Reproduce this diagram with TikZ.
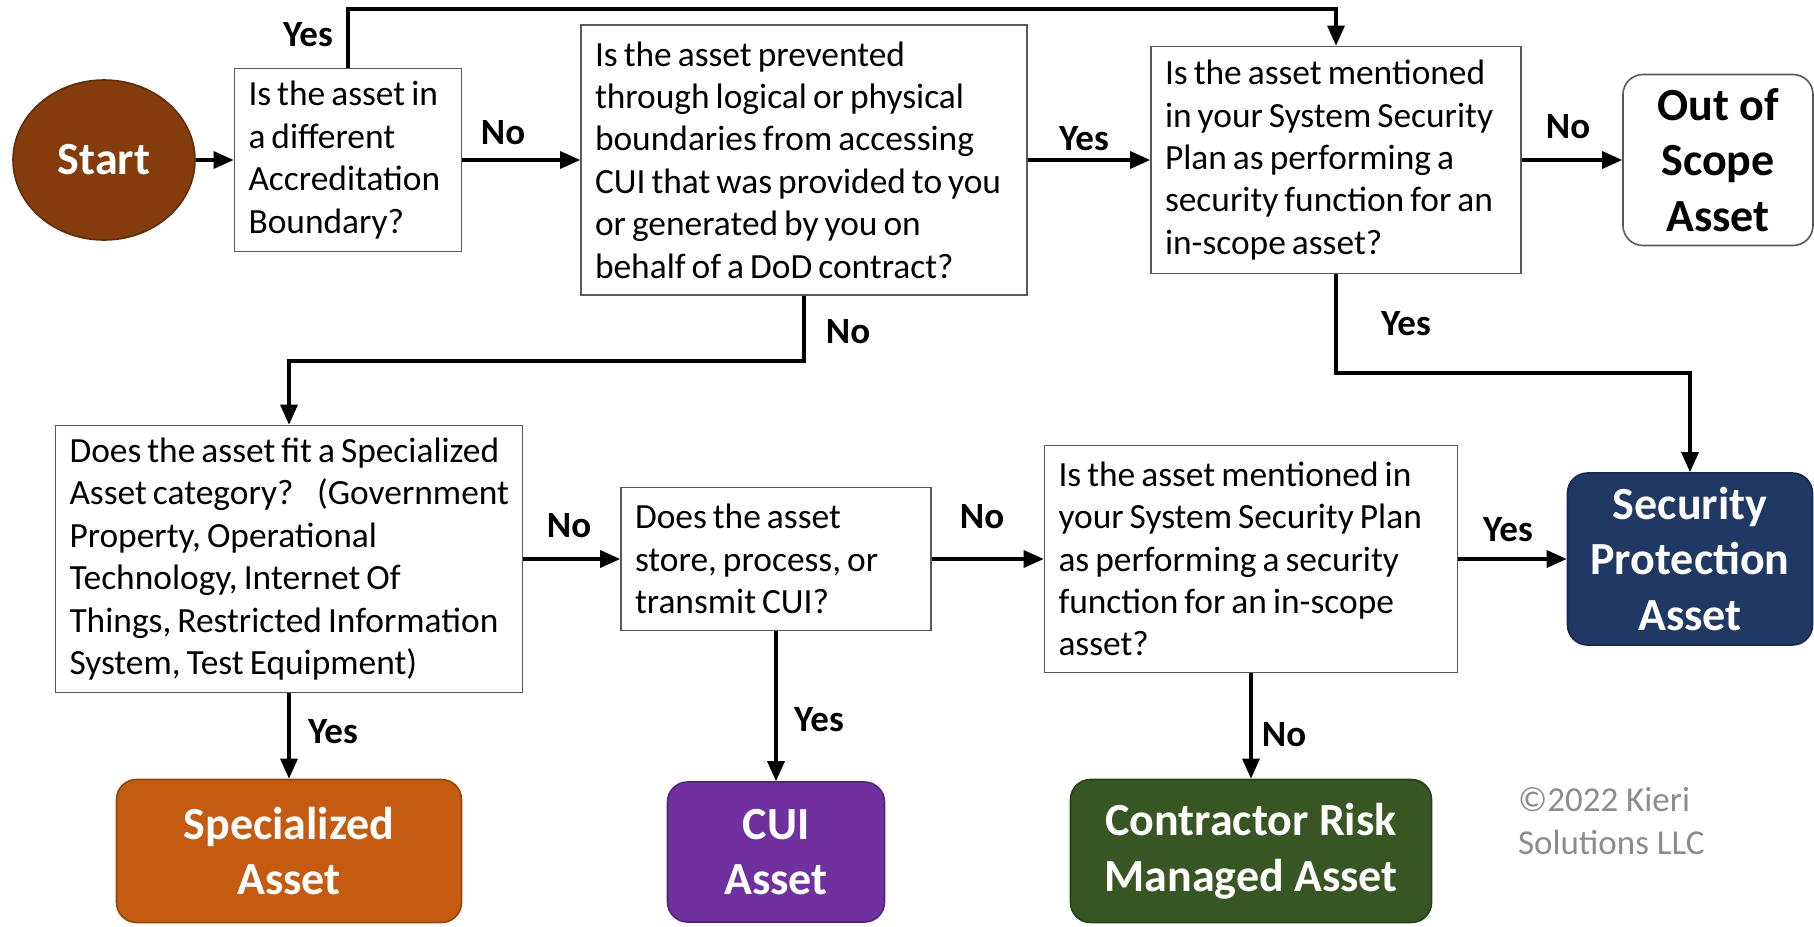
\documentclass[tikz,border=0pt]{standalone}
\usepackage{fontspec}
\setmainfont{Carlito}
\usepackage{tikz}
\usetikzlibrary{shapes,arrows.meta}
\usepackage{xcolor}
\definecolor{startbrown}{HTML}{843C0C}
\definecolor{specorange}{HTML}{C55A11}
\definecolor{cuipurple}{HTML}{7030A0}
\definecolor{crmgreen}{HTML}{375623}
\definecolor{spanavy}{HTML}{1F3864}
\definecolor{boxline}{HTML}{595959}
\definecolor{copygray}{HTML}{8C8C8C}

\begin{document}
\begin{tikzpicture}[x=0.5pt,y=-0.5pt,
		question/.style={draw=boxline, line width=0.8pt, fill=white, align=left, inner xsep=0pt, inner ysep=2pt, font=\fontsize{17.7}{21.2}\selectfont, execute at begin node={\leftskip=7pt\spaceskip=0.17em plus 0.05em\hyphenpenalty=10000\relax}},
		outcome/.style={rounded corners=10pt, draw=#1!75!black, line width=0.8pt, fill=#1, text=white, align=center, inner sep=2pt, font=\bfseries\fontsize{23}{27.8}\selectfont},
		answer/.style={font=\bfseries\fontsize{18.5}{22}\selectfont},
		flow/.style={line width=1.6pt, -{Triangle[length=10pt,width=8.5pt]}}]
		\useasboundingbox (0,0) rectangle (1814,926);
		\node[outcome=startbrown, ellipse, minimum width=91pt, minimum height=80pt] (start) at (104,160) {Start};
		\node[question, text width=113.5pt, minimum height=91.5pt] (accred) at (348,160) {Is the asset in\\a different\\Accreditation\\Boundary?};
		\node[question, text width=223pt, minimum height=135pt] (prevent) at (804,160) {Is the asset prevented\\through logical or physical\\boundaries from accessing\\CUI that was provided to you\\or generated by you on\\behalf of a DoD contract?};
		\node[question, text width=185pt, minimum height=113.5pt] (sspfunc) at (1336,160) {Is the asset mentioned\\in your System Security\\Plan as performing a\\security function for an\\in-scope asset?};
		\node[outcome=white, draw=boxline, text=black, minimum width=95pt, minimum height=85.5pt] (outscope) at (1718,160) {Out of\\Scope\\Asset};
		\node[question, text width=233.5pt, minimum height=133.5pt] (special) at (289,559) {Does the asset fit a Specialized\\Asset category?~ (Government\\Property, Operational\\Technology, Internet Of\\Things, Restricted Information\\System, Test Equipment)};
		\node[question, text width=155pt, minimum height=71.5pt] (storecui) at (776,559) {Does the asset\\store, process, or\\transmit CUI?};
		\node[question, text width=206.5pt, minimum height=113.5pt] (sspcheck) at (1251,559) {Is the asset mentioned in\\your System Security Plan\\as performing a security\\function for an in-scope\\asset?};
		\node[outcome=spanavy, minimum width=122.5pt, minimum height=86pt] (spa) at (1690,559) {Security\\Protection\\Asset};
		\node[outcome=specorange, minimum width=172.5pt, minimum height=71.5pt] (specasset) at (289,851) {Specialized\\Asset};
		\node[outcome=cuipurple, minimum width=108.5pt, minimum height=70pt] (cuiasset) at (776,852) {CUI\\Asset};
		\node[outcome=crmgreen, minimum width=180.5pt, minimum height=71.5pt] (crmasset) at (1251,851) {Contractor Risk\\Managed Asset};
		\node[anchor=west, align=left, text=copygray, font=\fontsize{17.5}{21.2}\selectfont] (copyright) at (1511,821) {©2022 Kieri\\Solutions LLC};
		\coordinate (topline) at (0,9);
		\coordinate (leftturn) at (0,361);
		\coordinate (rightturn) at (0,373);
		\draw[flow] (start) -- (accred);
		\draw[flow] (accred) -- (prevent);
		\draw[flow] (prevent) -- (sspfunc);
		\draw[flow] (sspfunc) -- (outscope);
		\draw[flow] (accred.north) -- (accred.north |- topline) -| (sspfunc.north);
		\draw[flow] (prevent.south) -- (prevent.south |- leftturn) -| (special.north);
		\draw[flow] (sspfunc.south) -- (sspfunc.south |- rightturn) -| (spa.north);
		\draw[flow] (special) -- (storecui);
		\draw[flow] (storecui) -- (sspcheck);
		\draw[flow] (sspcheck) -- (spa);
		\draw[flow] (special) -- (specasset);
		\draw[flow] (storecui) -- (cuiasset);
		\draw[flow] (sspcheck) -- (crmasset);
		\node[answer] (yestop) at (308,35) {Yes};
		\node[answer] (noaccred) at (503,133) {No};
		\node[answer] (yesprevent) at (1084,139) {Yes};
		\node[answer] (noscope) at (1568,127) {No};
		\node[answer] (yesspa) at (1406,324) {Yes};
		\node[answer] (noprevent) at (848,332) {No};
		\node[answer] (nospecial) at (569,526) {No};
		\node[answer] (nostore) at (982,517) {No};
		\node[answer] (yescheck) at (1508,530) {Yes};
		\node[answer] (yesspecial) at (333,732) {Yes};
		\node[answer] (yesstore) at (819,720) {Yes};
		\node[answer] (nocheck) at (1284,735) {No};
\end{tikzpicture}
\end{document}
